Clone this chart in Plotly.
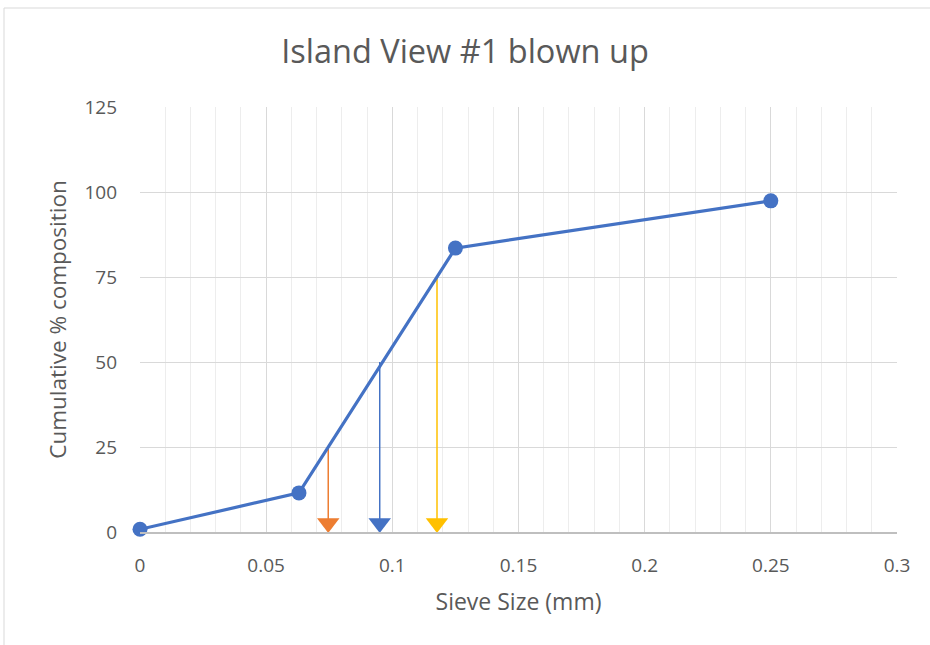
import plotly.graph_objects as go

sieve_mm = [0, 0.063, 0.125, 0.25]
cum_pct = [0.8, 11.5, 83.5, 97.4]

d_labels = ["D25", "D50", "D75"]
d_x = [0.0746, 0.0950, 0.1177]
d_top = [25, 50, 75]
d_colors = ["#ED7D31", "#4472C4", "#FFC000"]
arrow_tip_y = 2.6

x_ticks = [0, 0.05, 0.1, 0.15, 0.2, 0.25, 0.3]
x_tick_text = ["0", "0.05", "0.1", "0.15", "0.2", "0.25", "0.3"]
y_ticks = [0, 25, 50, 75, 100, 125]

FONT = "Open Sans"
GREY = "#595959"

fig = go.Figure()

for xv, top, col in zip(d_x, d_top, d_colors):
    fig.add_trace(go.Scatter(x=[xv, xv], y=[top, arrow_tip_y + 1], mode="lines",
                             line=dict(color=col, width=1.5), showlegend=False, hoverinfo="skip"))
    fig.add_trace(go.Scatter(x=[xv], y=[arrow_tip_y], mode="markers",
                             marker=dict(symbol="triangle-down", size=19.5, color=col),
                             showlegend=False, hoverinfo="skip", cliponaxis=False))

fig.add_trace(go.Scatter(x=sieve_mm, y=cum_pct, mode="lines+markers",
                         line=dict(color="#4472C4", width=3.2),
                         marker=dict(size=15, color="#4472C4"),
                         showlegend=False, cliponaxis=False))

fig.add_shape(type="rect", xref="paper", yref="paper",
              x0=(4 - 140) / 757, x1=(945 - 140) / 757,
              y0=(532 - 660) / 425, y1=(532 - 8) / 425,
              line=dict(color="#D9D9D9", width=1), fillcolor="rgba(0,0,0,0)", layer="below")

fig.update_layout(
    width=930, height=645,
    margin=dict(l=140, r=33, t=107, b=113),
    paper_bgcolor="white", plot_bgcolor="white",
    font=dict(family=FONT, color=GREY, size=19),
    title=dict(text="Island View #1 blown up", x=0.5, xanchor="center",
               y=1 - 52 / 645, yanchor="middle",
               font=dict(family=FONT, size=32.5, color=GREY)),
    xaxis=dict(range=[0, 0.3], tickvals=x_ticks, ticktext=x_tick_text,
               showgrid=True, gridcolor="#D9D9D9", gridwidth=1,
               minor=dict(dtick=0.01, showgrid=True, gridcolor="#EDEDED", gridwidth=1),
               zeroline=False, showline=True, linecolor="#BFBFBF", linewidth=1.5,
               ticks="", ticklen=0, ticklabelstandoff=15,
               title=dict(text="Sieve Size (mm)", font=dict(size=23, color=GREY), standoff=17),
               tickfont=dict(size=19, color=GREY)),
    yaxis=dict(range=[0, 125], tickvals=y_ticks,
               showgrid=True, gridcolor="#D9D9D9", gridwidth=1,
               zeroline=False, showline=False, ticks="", ticklabelstandoff=22,
               title=dict(text="Cumulative % composition", font=dict(size=22.5, color=GREY), standoff=11),
               tickfont=dict(size=19, color=GREY)),
)

fig.write_html("out.html")
